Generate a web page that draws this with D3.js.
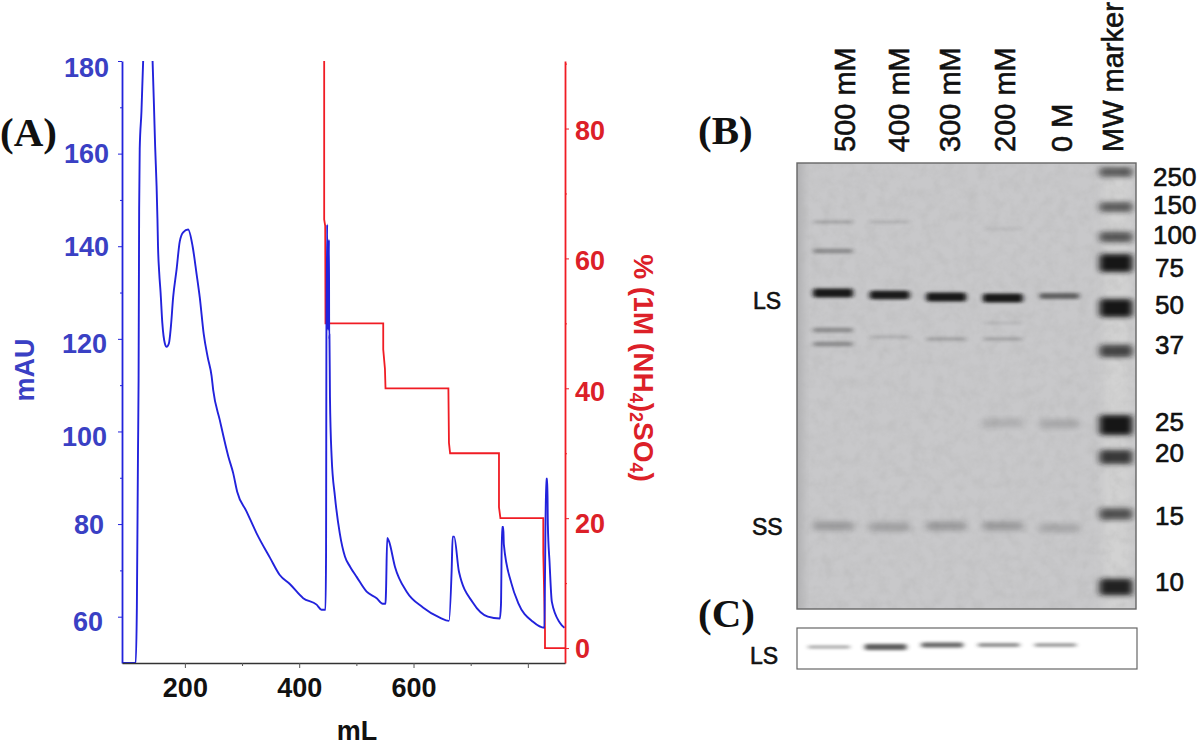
<!DOCTYPE html>
<html>
<head>
<meta charset="utf-8">
<script src="https://cdn.jsdelivr.net/npm/d3@7"></script>
<style>
  html, body { margin: 0; padding: 0; background: #fff; }
  svg { display: block; }
  text { font-family: "Liberation Sans", Arial, sans-serif; }
  .panel { font-family: "Liberation Serif", "Times New Roman", serif; font-weight: bold; font-size: 41px; fill: #111; }
  .gelLabel { font-size: 26px; fill: #111; stroke: #111; stroke-width: .6px; }
  .laneLabel { font-size: 29px; }
  .bandName { font-size: 23px; }
</style>
</head>
<body>
<div id="chart"></div>
<script>
// absorbance trace (first peak runs off the top of the plot)
const traceMl = [90,114,116,118,119,120,121,124,127,135,143.5,146,148,150.5,152,153,155,157.5,160.5,165,168,172,175.5,179.5,185.5,191,197,205.8,213.5,220.5,226,233,240,246.7,249.5,261,276,284.5,291.5,308,325.5,349,366,384,407,430.5,439,446,447,447.6,449,449.5,450.5,451,452,452.5,452.9,453.8,456.7,462.5,471,480,489,500.5,518,535.5,546,551,551.8,554,557,567.5,588,616.5,646,662,666.7,668.5,671,679.5,704,730,751,753,754.8,757,758,771,783,809,829,830,832,834,835,838,842,856,864];
const traceMau = [50,50,62,96,111,148,161,169,180,195,180,170,161.5,153,146,140,134.5,130,123.5,119,118.3,119,122.6,129,135,141,143,143.6,140,134,129,121,116,112,109,102.5,94.6,91,87,82.7,78,72.7,69,67,64,62.6,61.5,61.5,74,120,144.7,122,141,122,141.4,120,120.9,107.5,94.6,86,78,73,70.8,68.6,65.4,64,62.8,62.8,65.2,77,76.3,70.8,65.4,62,59.8,59.1,70,77.3,77.3,69.7,63,60,59.6,62.6,79.4,79.4,75.6,67.3,63,58.9,57.6,68.6,89.8,89.8,79.9,71.7,63.2,58.7,57.6];

// salt step gradient
const saltMl = [443.7,443.7,445.5,446,547,547,550,551,661,662,664,749.5,749.5,752,827,827,830,830,865];
const saltPct = [90.4,66,65,50,50,46,43,40,40,31.6,30,30,21.7,20,20,14.6,2.8,0,0];

const mlTicks = [200,300,400,500,600,700,800];
const mlLabels = ["200","400","600"];
const mauTicks = [60,70,80,90,100,110,120,130,140,150,160,170,180];
const pctTicks = [0,10,20,30,40,50,60,70,80,90];

// gel, band position = distance from the top of the gel, strength = how dark
const lanes = ["500 mM","400 mM","300 mM","200 mM","0 M","MW marker"];
const lanePos = [
  [59,88,130,167,181,363],
  [59,132,174,364],
  [134,176,363],
  [66,135,160,176,260,363],
  [133,261,365],
  [9,44,74,100,145,188,262,294,351,424]
];
const laneStrength = [
  [.22,.42,1.1,.42,.42,.3],
  [.14,1,.16,.26],
  [1.1,.24,.3],
  [.05,1.1,.1,.22,.14,.3],
  [.65,.2,.2],
  [.6,.6,.65,1.2,1.2,.8,1.35,.9,.7,1.1]
];
const markerKda = ["250","150","100","75","50","37","25","20","15","10"];

// blot (C)
const blotPos = [19,19,17,17,17];
const blotStrength = [.3,.75,.65,.45,.4];

const width = 1200, height = 746;
const svg = d3.select("#chart").append("svg").attr("width", width).attr("height", height);

const blue = "#2222dc", blueText = "#3a40c4", red = "#f01c24", redText = "#dc2028";

const margin = {left: 122, right: 565, top: 61, bottom: 663};
const x = d3.scaleLinear().domain([90, 865]).range([margin.left, margin.right]);
const yMau = d3.scaleLinear().domain([50, 180]).range([margin.bottom, margin.top]);
const yPct = d3.scaleLinear().domain([-2.3, 90.4]).range([margin.bottom, margin.top]);

const defs = svg.append("defs");
defs.append("clipPath").attr("id", "plotClip").append("rect")
  .attr("x", margin.left).attr("y", margin.top)
  .attr("width", margin.right - margin.left).attr("height", margin.bottom - margin.top);

// lines
const saltLine = d3.line().x((d, i) => x(saltMl[i])).y(d => yPct(d));
const traceLine = d3.line().x((d, i) => x(traceMl[i])).y(d => yMau(d))
  .curve(d3.curveMonotoneX);

const plot = svg.append("g").attr("clip-path", "url(#plotClip)");
plot.append("path").datum(saltPct).attr("d", saltLine)
  .attr("fill", "none").attr("stroke", red).attr("stroke-width", 1.8);
plot.append("path").datum(traceMau).attr("d", traceLine)
  .attr("fill", "none").attr("stroke", blue).attr("stroke-width", 1.9);

// left axis
const axisL = svg.append("g").attr("transform", `translate(${margin.left},0)`)
  .call(d3.axisLeft(yMau).tickValues(mauTicks).tickSizeOuter(0)
    .tickFormat(d => d % 20 === 0 ? d : ""));
axisL.select(".domain").attr("stroke", blue).attr("stroke-width", 1.8);
axisL.selectAll("line").attr("stroke", blue).attr("x2", d => d % 20 === 0 ? -4 : -2);
const leftNudge = {180: [0, 7], 160: [0, 0], 140: [0, 1], 120: [-2, 5], 100: [-2, 5], 80: [-5, 1], 60: [-6, 5]};
axisL.selectAll("text")
  .attr("fill", blueText).attr("font-size", 27).attr("font-weight", "bold")
  .attr("x", d => d % 20 === 0 ? -13 + leftNudge[d][0] : 0)
  .attr("y", d => d % 20 === 0 ? leftNudge[d][1] : 0);

// right axis
const axisR = svg.append("g").attr("transform", `translate(${margin.right},0)`)
  .call(d3.axisRight(yPct).tickValues(pctTicks).tickSizeOuter(0)
    .tickFormat(d => d % 20 === 0 ? d : ""));
axisR.select(".domain").attr("stroke", red).attr("stroke-width", 1.8);
axisR.selectAll("line").attr("stroke", red).attr("x2", d => d % 20 === 0 ? 4 : 2);
const rightNudge = {0: 1, 20: 6, 40: 4, 60: 2, 80: 2};
axisR.selectAll("text")
  .attr("fill", redText).attr("font-size", 27).attr("font-weight", "bold")
  .attr("x", 10)
  .attr("y", d => d % 20 === 0 ? rightNudge[d] : 0);

// bottom axis, 800 has a tick but no label
const axisB = svg.append("g").attr("transform", `translate(0,${margin.bottom})`)
  .call(d3.axisBottom(x).tickValues(mlTicks).tickSizeOuter(0)
    .tickFormat(d => mlLabels.includes(String(d)) ? d : ""));
axisB.select(".domain").attr("stroke", "#333").attr("stroke-width", 1.6);
axisB.selectAll("line").attr("stroke", "#555").attr("y2", d => d % 200 === 0 ? 5 : 3);
axisB.selectAll("text")
  .attr("fill", "#111").attr("font-size", 27).attr("font-weight", "bold").attr("y", 15);

// axis titles
svg.append("text").attr("transform", "translate(34,370) rotate(-90)")
  .attr("text-anchor", "middle").attr("fill", blueText)
  .attr("font-size", 27).attr("font-weight", "bold").text("mAU");

svg.append("text").attr("x", 357).attr("y", 740)
  .attr("text-anchor", "middle").attr("fill", "#111")
  .attr("font-size", 27).attr("font-weight", "bold").text("mL");

const saltTitle = svg.append("text").attr("transform", "translate(634,368) rotate(90)")
  .attr("text-anchor", "middle").attr("fill", redText)
  .attr("font-size", 28).attr("font-weight", "bold");
saltTitle.append("tspan").text("% (1M (NH");
saltTitle.append("tspan").attr("font-size", 18).attr("dy", 4).text("4");
saltTitle.append("tspan").attr("dy", -4).text(")");
saltTitle.append("tspan").attr("font-size", 18).attr("dy", 4).text("2");
saltTitle.append("tspan").attr("dy", -4).text("SO");
saltTitle.append("tspan").attr("font-size", 18).attr("dy", 4).text("4");
saltTitle.append("tspan").attr("dy", -4).text(")");

// panel letters
svg.append("text").attr("class", "panel").attr("x", 0).attr("y", 146).text("(A)");
svg.append("text").attr("class", "panel").attr("x", 698).attr("y", 144).text("(B)");
svg.append("text").attr("class", "panel").attr("x", 698).attr("y", 627).text("(C)");

// gel
defs.append("filter").attr("id", "blurBand")
  .attr("x", "-20%").attr("y", "-150%").attr("width", "140%").attr("height", "400%")
  .append("feGaussianBlur").attr("stdDeviation", "2.6 1.6");
defs.append("filter").attr("id", "blurDiffuse")
  .attr("x", "-20%").attr("y", "-150%").attr("width", "140%").attr("height", "400%")
  .append("feGaussianBlur").attr("stdDeviation", "3.5 2.4");
defs.append("filter").attr("id", "blurSoft").attr("x", "-50%").attr("y", "-30%").attr("width", "200%").attr("height", "160%")
  .append("feGaussianBlur").attr("stdDeviation", 5);
const grain = defs.append("filter").attr("id", "grain").attr("x", 0).attr("y", 0).attr("width", "100%").attr("height", "100%");
grain.append("feTurbulence").attr("type", "fractalNoise").attr("baseFrequency", .09).attr("numOctaves", 3).attr("seed", 4);
grain.append("feColorMatrix").attr("type", "matrix")
  .attr("values", "0 0 0 0 .45  0 0 0 0 .45  0 0 0 0 .45  .9 .9 0 0 -.72");
defs.append("clipPath").attr("id", "gelClip").append("rect")
  .attr("x", 797).attr("y", 163).attr("width", 339).attr("height", 446);

const laneX = d3.scalePoint().domain(lanes).range([833, 1116]);
const gelY = d3.scaleLinear().domain([0, 446]).range([163, 609]);
const sampleH = d3.scaleLinear().domain([0, 1.1]).range([2, 9]);
const markerH = d3.scaleLinear().domain([.6, 1.35]).range([10, 20]);
const bandOpacity = d3.scaleLinear().domain([0, .5, 1, 1.35]).range([.03, .4, .97, 1]).clamp(true);
const markerOpacity = d3.scaleLinear().domain([.6, 1.2]).range([.62, 1]).clamp(true);

const gel = svg.append("g").attr("clip-path", "url(#gelClip)");
gel.append("rect").attr("x", 797).attr("y", 163).attr("width", 339).attr("height", 446).attr("fill", "#c8c8ca");
// darker left edge, lighter marker lane, paper grain
gel.append("rect").attr("x", 788).attr("y", 155).attr("width", 14).attr("height", 460)
  .attr("fill", "#aeaeb0").attr("filter", "url(#blurSoft)");
gel.append("rect").attr("x", 1103).attr("y", 155).attr("width", 28).attr("height", 460)
  .attr("fill", "#d2d2d2").attr("filter", "url(#blurSoft)");
gel.append("rect").attr("x", 797).attr("y", 163).attr("width", 339).attr("height", 446)
  .attr("filter", "url(#grain)").attr("opacity", .5);

lanes.forEach((lane, i) => {
  const isMarker = lane === "MW marker";
  const w = isMarker ? 33 : 40;
  // low bands in the sample lanes run wide and soft
  const diffuse = d => !isMarker && d > 250;
  const h = (d, s) => isMarker ? markerH(s) : diffuse(d) ? 9 : sampleH(s);
  gel.selectAll(null).data(lanePos[i]).enter().append("rect")
    .attr("x", laneX(lane) - w / 2)
    .attr("y", (d, j) => gelY(d) - h(d, laneStrength[i][j]) / 2)
    .attr("width", w)
    .attr("height", (d, j) => h(d, laneStrength[i][j]))
    .attr("rx", 3)
    .attr("fill", "#141416")
    .attr("opacity", (d, j) => isMarker ? markerOpacity(laneStrength[i][j]) : bandOpacity(laneStrength[i][j]))
    .attr("filter", d => diffuse(d) || isMarker ? "url(#blurDiffuse)" : "url(#blurBand)");
});

svg.append("rect").attr("x", 797).attr("y", 163).attr("width", 339).attr("height", 446)
  .attr("fill", "none").attr("stroke", "#666").attr("stroke-width", 1.4);

// blot
svg.append("rect").attr("x", 797).attr("y", 628).attr("width", 340).attr("height", 41)
  .attr("fill", "#fff").attr("stroke", "#666").attr("stroke-width", 1.2);
svg.selectAll(null).data(blotPos).enter().append("rect")
  .attr("x", (d, i) => laneX(lanes[i]) - 25)
  .attr("y", (d, i) => 628 + d - blotStrength[i] * 4)
  .attr("width", 42)
  .attr("height", (d, i) => blotStrength[i] * 8)
  .attr("rx", 2)
  .attr("fill", "#333")
  .attr("opacity", (d, i) => .35 + blotStrength[i] * .6)
  .attr("filter", "url(#blurBand)");

// lane labels, the baselines do not sit exactly on the lanes
const laneLabelShift = [22, 19, 14, 12, 13, 7];
svg.selectAll(null).data(lanes).enter().append("text")
  .attr("class", "gelLabel laneLabel")
  .attr("transform", (d, i) => `translate(${laneX(d) + laneLabelShift[i]},152) rotate(-90)`)
  .text(d => d);

// marker sizes and band names
const kdaY = [177,205,235,268,305,345,422,453,516,582];
svg.selectAll(null).data(markerKda).enter().append("text")
  .attr("class", "gelLabel")
  .attr("x", (d, i) => i < 3 ? 1153 : 1155)
  .attr("y", (d, i) => kdaY[i] + 9)
  .text(d => d);

svg.append("text").attr("class", "gelLabel bandName").attr("x", 753).attr("y", 309).text("LS");
svg.append("text").attr("class", "gelLabel bandName").attr("x", 752).attr("y", 535).text("SS");
svg.append("text").attr("class", "gelLabel bandName").attr("x", 750).attr("y", 664).text("LS");
</script>
</body>
</html>
